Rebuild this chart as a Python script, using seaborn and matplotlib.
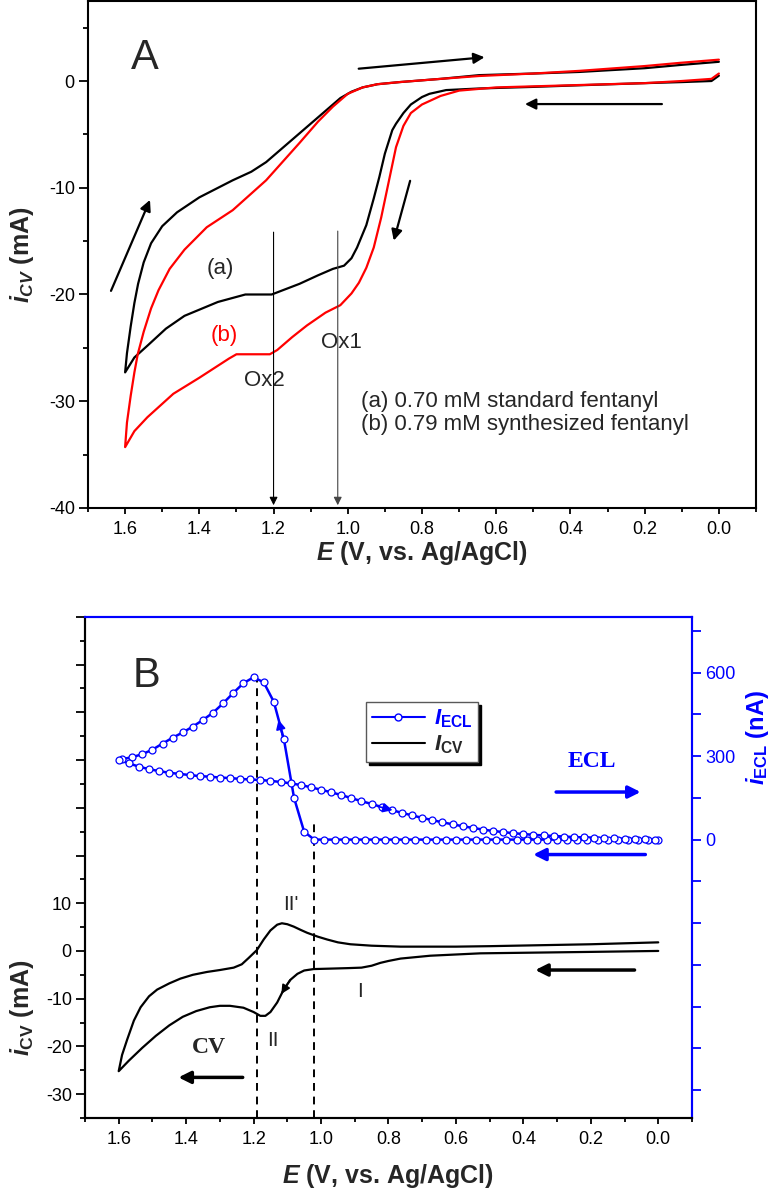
import matplotlib
matplotlib.use('Agg')
import pandas as pd
import matplotlib.pyplot as plt
import seaborn as sns
from matplotlib.lines import Line2D
from matplotlib.ticker import MultipleLocator

# ---- Panel A: CV of fentanyl, (a) standard and (b) synthesized ----
a_fwd_E = [0.0, 0.02, 0.1, 0.2, 0.376, 0.5, 0.646, 0.735, 0.78, 0.8, 0.83, 0.85, 0.87, 0.88, 0.90, 0.915, 0.93,
           0.95, 0.975, 0.99, 1.01, 1.04, 1.08, 1.13, 1.205, 1.276, 1.35, 1.44, 1.49, 1.54, 1.575, 1.6]
a_fwd_i = [0.5, 0.0, -0.1, -0.2, -0.4, -0.55, -0.7, -0.85, -1.2, -1.5, -2.2, -3.0, -4.0, -4.6, -6.8, -9.0, -11.0,
           -13.5, -15.6, -16.6, -17.3, -17.6, -18.2, -19.0, -20.0, -20.0, -20.7, -22.0, -23.2, -24.8, -25.9, -27.3]
a_rev_E = [1.595, 1.585, 1.575, 1.565, 1.55, 1.53, 1.50, 1.46, 1.40, 1.31, 1.26, 1.22, 1.18, 1.13, 1.10, 1.06,
           1.02, 0.99, 0.96, 0.92, 0.86, 0.75, 0.646, 0.5, 0.376, 0.2, 0.105, 0.0]
a_rev_i = [-25.5, -23.0, -20.8, -19.0, -17.0, -15.2, -13.6, -12.3, -10.9, -9.3, -8.5, -7.6, -6.4, -4.9, -4.0, -2.8,
           -1.6, -1.0, -0.6, -0.3, -0.1, 0.2, 0.55, 0.7, 0.85, 1.2, 1.5, 1.8]

b_fwd_E = [0.0, 0.02, 0.1, 0.2, 0.4, 0.6, 0.7, 0.75, 0.8, 0.83, 0.85, 0.87, 0.89, 0.91, 0.93, 0.95, 0.97, 0.99,
           1.02, 1.06, 1.11, 1.15, 1.19, 1.21, 1.25, 1.30, 1.32, 1.40, 1.47, 1.54, 1.575, 1.6]
b_fwd_i = [0.7, 0.2, 0.0, -0.2, -0.4, -0.6, -0.9, -1.4, -2.2, -3.0, -4.2, -6.2, -9.5, -12.8, -15.6, -17.5, -18.9,
           -19.9, -21.0, -21.7, -22.9, -24.0, -25.2, -25.6, -25.6, -25.6, -26.0, -27.8, -29.3, -31.5, -32.8, -34.3]
b_rev_E = [1.595, 1.585, 1.575, 1.566, 1.55, 1.53, 1.51, 1.48, 1.44, 1.38, 1.31, 1.22, 1.13, 1.08, 1.04, 1.0,
           0.96, 0.92, 0.86, 0.75, 0.646, 0.5, 0.376, 0.2, 0.105, 0.0]
b_rev_i = [-32.0, -29.5, -27.3, -25.6, -23.5, -21.3, -19.6, -17.6, -15.8, -13.7, -12.1, -9.3, -5.8, -3.8, -2.4, -1.2,
           -0.6, -0.3, -0.1, 0.2, 0.47, 0.7, 0.95, 1.4, 1.7, 2.0]

# ---- Panel B: CV (mA) and ECL (nA) ----
cv_fwd_E = [0.0, 0.2, 0.527, 0.676, 0.764, 0.80, 0.824, 0.85, 0.88, 0.92, 0.97, 1.022, 1.05, 1.07, 1.09, 1.11,
            1.13, 1.15, 1.165, 1.18, 1.20, 1.23, 1.27, 1.30, 1.33, 1.37, 1.41, 1.45, 1.49, 1.53, 1.57, 1.6]
cv_fwd_i = [0.0, -0.2, -0.5, -1.0, -1.6, -2.1, -2.5, -3.1, -3.5, -3.6, -3.7, -3.8, -4.1, -4.8, -6.0, -8.0,
            -10.8, -12.8, -13.6, -13.6, -12.8, -11.9, -11.5, -11.5, -11.8, -12.6, -13.8, -15.6, -17.8, -20.3, -23.0, -25.2]
cv_rev_E = [1.59, 1.575, 1.555, 1.535, 1.51, 1.486, 1.45, 1.417, 1.38, 1.338, 1.30, 1.259, 1.235, 1.215, 1.19,
            1.17, 1.15, 1.13, 1.116, 1.10, 1.081, 1.06, 1.041, 1.01, 0.982, 0.95, 0.913, 0.85, 0.764, 0.6, 0.5,
            0.2, 0.0]
cv_rev_i = [-21.8, -18.6, -14.6, -11.8, -9.5, -8.1, -6.8, -5.8, -5.0, -4.4, -4.0, -3.5, -2.8, -1.5, 0.2,
            2.4, 4.3, 5.5, 5.8, 5.6, 5.1, 4.4, 3.8, 3.0, 2.4, 1.8, 1.4, 1.1, 0.9, 0.9, 1.0,
            1.4, 1.8]

ecl_fwd_E = [0.00, 0.03, 0.06, 0.09, 0.12, 0.15, 0.18, 0.21, 0.24, 0.27, 0.30, 0.33, 0.36, 0.39, 0.42, 0.45,
             0.48, 0.51, 0.54, 0.57, 0.60, 0.63, 0.66, 0.69, 0.72, 0.75, 0.78, 0.81, 0.84, 0.87, 0.90, 0.93,
             0.96, 0.99, 1.02, 1.05, 1.08, 1.11, 1.14, 1.17, 1.20, 1.23, 1.26, 1.29, 1.32, 1.35, 1.38, 1.41,
             1.44, 1.47, 1.50, 1.53, 1.56, 1.59, 1.60]
ecl_fwd_I = [0, 0, 0, 0, 0, 0, 0, 0, 0, 0, 0, 0, 0, 0, 0, 0,
             0, 0, 0, 0, 0, 0, 0, 0, 0, 0, 0, 0, 0, 0, 0, 0,
             0, 0, 0, 28, 150, 360, 495, 565, 583, 562, 527, 490, 456, 430, 406, 385,
             366, 345, 323, 307, 296, 289, 287]
ecl_rev_E = [1.57, 1.54, 1.51, 1.48, 1.45, 1.42, 1.39, 1.36, 1.33, 1.30, 1.27, 1.24, 1.21, 1.18, 1.15, 1.12,
             1.09, 1.06, 1.03, 1.00, 0.97, 0.94, 0.91, 0.88, 0.85, 0.82, 0.79, 0.76, 0.73, 0.70, 0.67, 0.64,
             0.61, 0.58, 0.55, 0.52, 0.49, 0.46, 0.43, 0.40, 0.37, 0.34, 0.31, 0.28, 0.25, 0.22, 0.19, 0.16,
             0.13, 0.10, 0.07, 0.04, 0.01]
ecl_rev_I = [274, 262, 253, 246, 240, 236, 232, 228, 226, 223, 221, 218, 216, 214, 211, 207,
             202, 196, 188, 179, 170, 160, 149, 138, 128, 117, 106, 96, 87, 78, 70, 62,
             55, 48, 42, 36, 31, 27, 23, 20, 17, 15, 13, 11, 9, 8, 7, 5,
             4, 3, 2, 1, 0]

sns.set_style('ticks')
plt.rcParams['font.family'] = ['Liberation Sans', 'DejaVu Sans']
plt.rcParams['axes.unicode_minus'] = False
plt.rcParams['mathtext.fontset'] = 'custom'
plt.rcParams['mathtext.rm'] = 'Liberation Sans:bold'
plt.rcParams['mathtext.it'] = 'Liberation Sans:italic:bold'
plt.rcParams['mathtext.bf'] = 'Liberation Sans:bold'

fig = plt.figure(figsize=(7.76, 11.93), dpi=100)
axA = fig.add_axes([0.1134, 0.5742, 0.8608, 0.425])
axB = fig.add_axes([0.1095, 0.0629, 0.7822, 0.420])


def style_axes(ax):
    for s in ax.spines.values():
        s.set_linewidth(1.5)
        s.set_color('black')
    ax.tick_params(which='both', direction='out', width=1.3, labelsize=13, colors='black')
    ax.tick_params(axis='x', which='major', length=4.5, pad=5)
    ax.tick_params(axis='x', which='minor', length=2.8)
    ax.tick_params(axis='y', which='major', length=6.5, pad=3)
    ax.tick_params(axis='y', which='minor', length=3.5)


# ---------------- Panel A ----------------
dfA = pd.concat([
    pd.DataFrame({'E': a_fwd_E + a_rev_E, 'i': a_fwd_i + a_rev_i, 'curve': 'a'}),
    pd.DataFrame({'E': b_fwd_E + b_rev_E, 'i': b_fwd_i + b_rev_i, 'curve': 'b'}),
])
sns.lineplot(data=dfA, x='E', y='i', hue='curve', palette={'a': 'black', 'b': 'red'},
             sort=False, estimator=None, lw=1.6, legend=False, ax=axA)
style_axes(axA)
axA.set_xlim(1.7, -0.1)
axA.set_ylim(-40, 7.5)
axA.xaxis.set_major_locator(MultipleLocator(0.2))
axA.xaxis.set_minor_locator(MultipleLocator(0.1))
axA.yaxis.set_minor_locator(MultipleLocator(5))
axA.set_yticks([-40, -30, -20, -10, 0])
axA.set_xlabel(r'$E$ (V, vs. Ag/AgCl)', fontsize=18, fontweight='bold')
axA.set_ylabel(r'$i_{CV}$ (mA)', fontsize=18, fontweight='bold')
axA.xaxis.set_label_coords(0.5, -0.062)
axA.yaxis.set_label_coords(-0.078, 0.5)

axA.text(1.546, 2.2, 'A', fontsize=30, ha='center', va='center')
arrow_k = dict(arrowstyle='-|>', color='black', lw=1.6, mutation_scale=16)
axA.annotate('', xy=(0.624, 2.25), xytext=(0.978, 1.13), arrowprops=arrow_k)
axA.annotate('', xy=(0.530, -2.16), xytext=(0.146, -2.16), arrowprops=arrow_k)
axA.annotate('', xy=(0.878, -15.2), xytext=(0.830, -9.1), arrowprops=arrow_k)
axA.annotate('', xy=(1.530, -10.9), xytext=(1.641, -19.9), arrowprops=arrow_k)
axA.annotate('', xy=(1.2, -40), xytext=(1.2, -13.9),
             arrowprops=dict(arrowstyle='-|>', color='black', lw=0.8, mutation_scale=12))
axA.annotate('', xy=(1.027, -40), xytext=(1.027, -13.8),
             arrowprops=dict(arrowstyle='-|>', color='#444444', lw=0.8, mutation_scale=12))
axA.text(1.343, -17.6, '(a)', fontsize=16, ha='center', va='center')
axA.text(1.332, -23.8, '(b)', fontsize=16, ha='center', va='center', color='red')
axA.text(1.224, -28.1, 'Ox2', fontsize=16, ha='center', va='center')
axA.text(1.016, -24.5, 'Ox1', fontsize=16, ha='center', va='center')
axA.text(0.965, -30.0, '(a) 0.70 mM standard fentanyl', fontsize=16, ha='left', va='center')
axA.text(0.965, -32.2, '(b) 0.79 mM synthesized fentanyl', fontsize=16, ha='left', va='center')

# ---------------- Panel B ----------------
dfCV = pd.DataFrame({'E': cv_fwd_E + cv_rev_E, 'i': cv_fwd_i + cv_rev_i})
sns.lineplot(data=dfCV, x='E', y='i', sort=False, estimator=None, color='black', lw=1.6, ax=axB)
style_axes(axB)
axB.set_xlim(1.7, -0.1)
axB.set_ylim(-35, 70)
axB.xaxis.set_major_locator(MultipleLocator(0.2))
axB.xaxis.set_minor_locator(MultipleLocator(0.1))
axB.set_yticks(range(-30, 71, 10))
axB.set_yticklabels(['-30', '-20', '-10', '0', '10', '', '', '', '', '', ''])
axB.yaxis.set_minor_locator(MultipleLocator(5))
axB.set_xlabel(r'$E$ (V, vs. Ag/AgCl)', fontsize=18, fontweight='bold')
axB.set_ylabel(r'$i_{\mathbf{CV}}$ (mA)', fontsize=18, fontweight='bold')
axB.xaxis.set_label_coords(0.5, -0.088)
axB.yaxis.set_label_coords(-0.08, 0.22)

ax2 = axB.twinx()
dfECL = pd.DataFrame({'E': ecl_fwd_E + ecl_rev_E, 'I': ecl_fwd_I + ecl_rev_I})
sns.lineplot(data=dfECL, x='E', y='I', sort=False, estimator=None, color='blue', lw=1.8,
             marker='o', markersize=5, markerfacecolor='white', markeredgecolor='blue',
             markeredgewidth=0.9, ax=ax2)
ax2.set_ylim(-1000, 800)
ax2.set_yticks(range(-900, 751, 150))
ax2.set_yticklabels(['' if v not in (0, 300, 600) else str(v) for v in range(-900, 751, 150)])
ax2.tick_params(axis='y', direction='out', length=6.5, width=1.3, labelsize=13, colors='blue', pad=3)
ax2.set_ylabel(r'$i_{\mathbf{ECL}}$ (nA)', fontsize=17, fontweight='bold', color='blue')
ax2.yaxis.set_label_coords(1.085, 0.76)
for s in ['left', 'bottom']:
    ax2.spines[s].set_color('black')
    ax2.spines[s].set_linewidth(1.5)
for s in ['top', 'right']:
    ax2.spines[s].set_color('blue')
    ax2.spines[s].set_linewidth(1.5)
    axB.spines[s].set_color('blue')

axB.text(1.517, 57.7, 'B', fontsize=30, ha='center', va='center')
axB.vlines(1.19, -35, 57.5, colors='black', linestyles=(0, (4, 3)), lw=1.4)
axB.vlines(1.022, -35, 26.5, colors='black', linestyles=(0, (4, 3)), lw=1.4)
axB.annotate('', xy=(1.431, -26.5), xytext=(1.224, -26.5),
             arrowprops=dict(arrowstyle='-|>', color='black', lw=2.5, mutation_scale=18))
axB.annotate('', xy=(0.373, -4.0), xytext=(0.062, -4.0),
             arrowprops=dict(arrowstyle='-|>', color='black', lw=2.5, mutation_scale=18))
axB.annotate('', xy=(1.122, -9.5), xytext=(1.088, -5.6),
             arrowprops=dict(arrowstyle='-|>', color='black', lw=1.2, mutation_scale=13))
axB.text(1.333, -20.2, 'CV', fontsize=17, fontweight='bold', family='Liberation Serif',
         ha='center', va='center')
axB.text(1.09, 9.7, "II'", fontsize=15, ha='center', va='center')
axB.text(1.144, -18.7, 'II', fontsize=15, ha='center', va='center')
axB.text(0.883, -8.6, 'I', fontsize=15, ha='center', va='center')

axB.text(0.196, 39.6, 'ECL', fontsize=17, fontweight='bold', family='Liberation Serif',
         color='blue', ha='center', va='center')
axB.annotate('', xy=(0.044, 33.3), xytext=(0.311, 33.3),
             arrowprops=dict(arrowstyle='-|>', color='blue', lw=2.5, mutation_scale=18))
axB.annotate('', xy=(0.379, 20.2), xytext=(0.030, 20.2),
             arrowprops=dict(arrowstyle='-|>', color='blue', lw=2.5, mutation_scale=18))
ax2.annotate('', xy=(1.128, 440), xytext=(1.112, 360),
             arrowprops=dict(arrowstyle='-|>', color='blue', lw=1.2, mutation_scale=14))
ax2.annotate('', xy=(0.78, 103), xytext=(0.84, 122),
             arrowprops=dict(arrowstyle='-|>', color='blue', lw=1.2, mutation_scale=14))

handles = [Line2D([], [], color='blue', lw=1.5, marker='o', markersize=5, markerfacecolor='white',
                  markeredgecolor='blue'),
           Line2D([], [], color='black', lw=1.5)]
leg = ax2.legend(handles, [r'$I_{\mathbf{ECL}}$', r'$I_{\mathbf{CV}}$'], loc='upper left',
                 bbox_to_anchor=(0.463, 0.83), frameon=True, fancybox=False,
                 shadow={'color': 'black', 'alpha': 1}, edgecolor='0.35', fontsize=16,
                 handlelength=2.4, borderpad=0.25, labelspacing=0.15, handletextpad=0.4,
                 borderaxespad=0)
leg.get_frame().set_linewidth(1.0)
leg.get_texts()[0].set_color('blue')

fig.savefig('out.png', dpi=100)
